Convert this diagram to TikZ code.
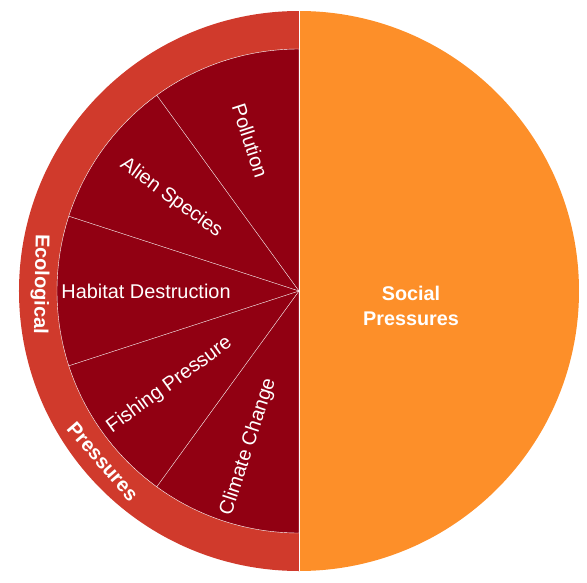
\documentclass[tikz,border=0pt]{standalone}
\usepackage{fontspec}
\setmainfont{Liberation Sans}
\usetikzlibrary{backgrounds}
\definecolor{socorange}{HTML}{FD8F29}
\definecolor{ringred}{HTML}{D03A2C}
\definecolor{darkred}{HTML}{910012}
\tikzset{
  seglabel/.style={white, inner sep=0pt},
  ringlabel/.style={white, inner sep=0pt, font=\fontsize{20}{24}\selectfont\bfseries},
}

\begin{document}
\begin{tikzpicture}[x=1pt, y=1pt, font=\fontsize{19.9}{25}\selectfont]
  \useasboundingbox (-299,-291) rectangle (288,291);
  \coordinate (c) at (0,0);
  % halves of the wheel
  \fill[socorange] (0,-280) arc (-90:90:280) -- cycle;
  \fill[ringred] (0,280) arc (90:270:280) -- cycle;
  \draw[white, thin, fill=darkred] (0,242) arc (90:270:242) -- cycle;
  \foreach \a in {126,162,198,234} \draw[white, thin] (c) -- (\a:242);
  \draw[white, thin] (0,-280) -- (0,280);
  % segment labels
  \node[seglabel, rotate=-72] (pollution) at (108:158) {Pollution};
  \node[seglabel, rotate=-36] (alien) at (144:158) {Alien Species};
  \node[seglabel] (habitat) at (180:153) {Habitat Destruction};
  \node[seglabel, rotate=36] (fishing) at (216:160) {Fishing Pressure};
  \node[seglabel, rotate=72] (climate) at (252:164) {Climate Change};
  % ring labels
  \node[ringlabel, rotate=-91] (ecol) at (178.5:259) {Ecological};
  \node[ringlabel, rotate=-49] (press) at (221:260) {Pressures};
  \node[ringlabel, align=center, font=\fontsize{19.8}{25}\selectfont\bfseries] (social) at (112,-15) {Social\\Pressures};
\end{tikzpicture}
\end{document}
